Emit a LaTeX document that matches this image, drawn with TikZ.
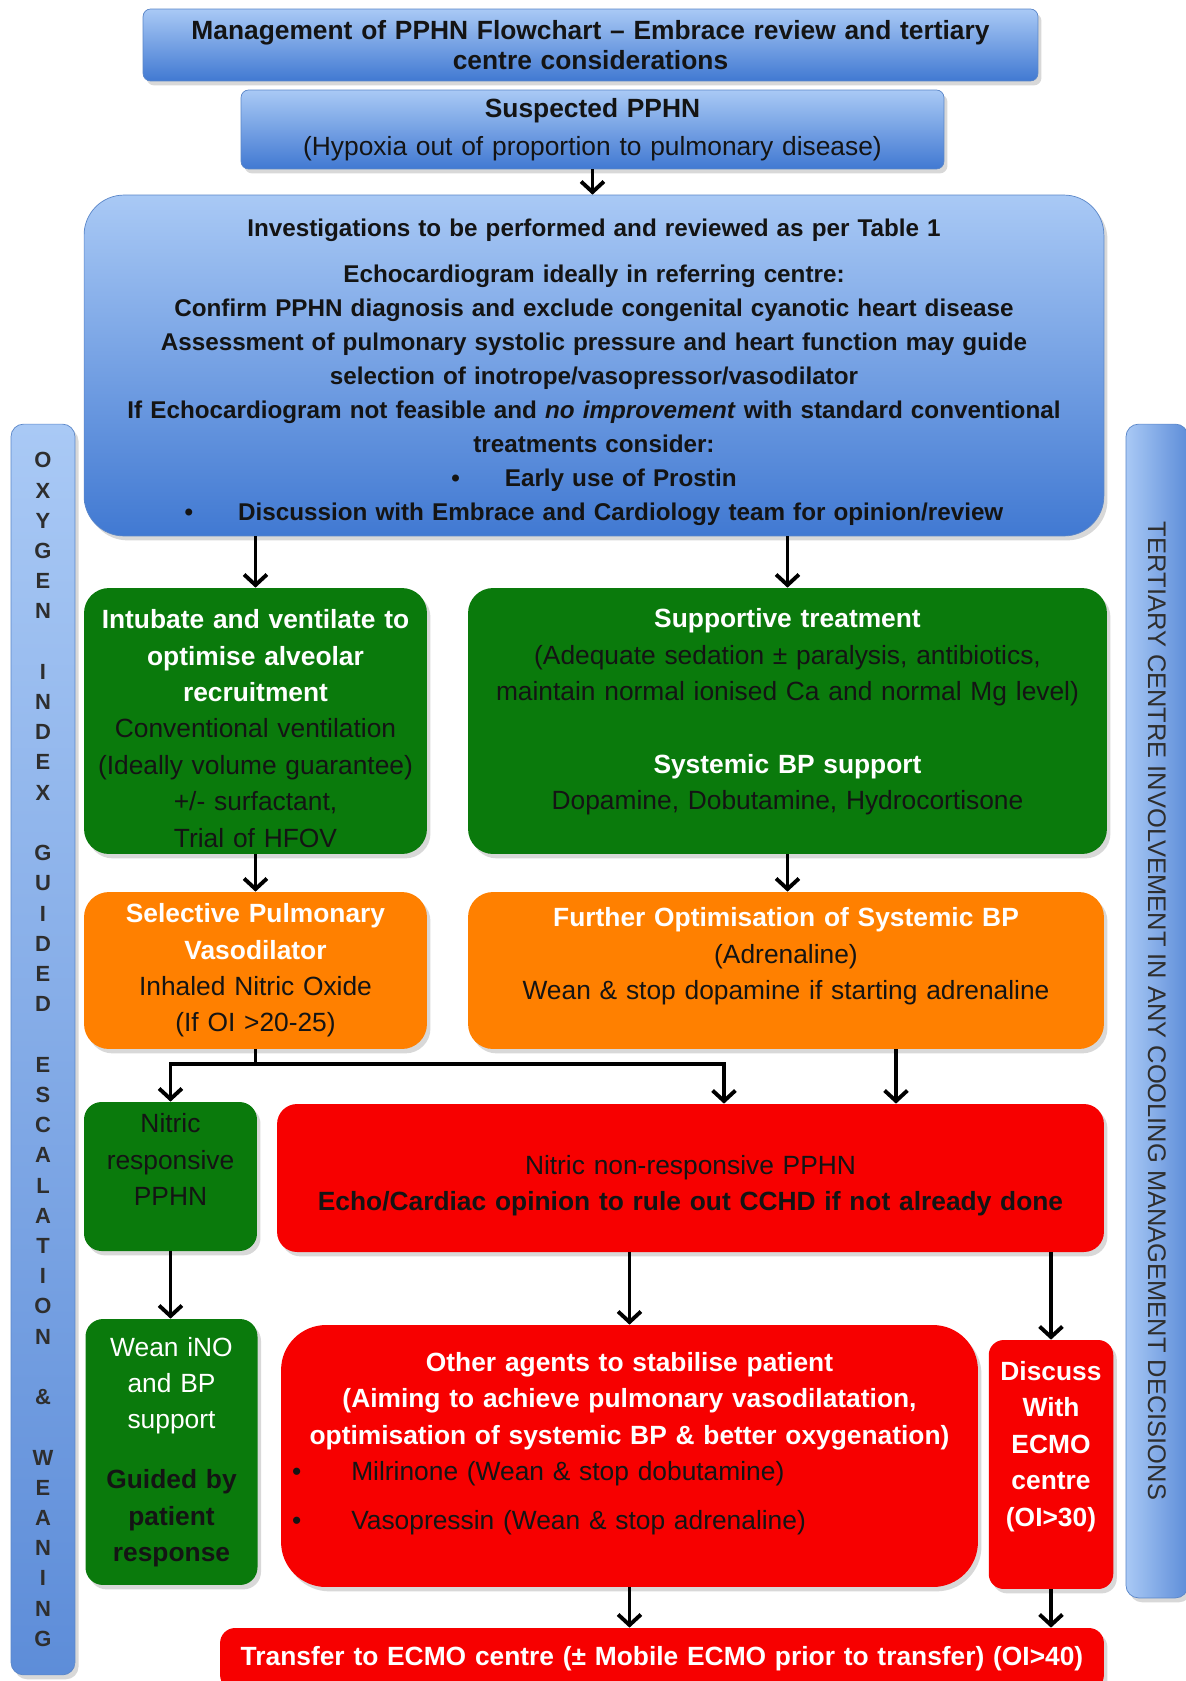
\documentclass[tikz,border=0pt]{standalone}
\usepackage{fontspec}
\setmainfont{Liberation Sans}
\usepackage{xcolor}
\usetikzlibrary{arrows.meta,shadows}

\definecolor{lightblue}{HTML}{A9C9F5}
\definecolor{deepblue}{HTML}{4179D2}
\definecolor{edgeblue}{HTML}{5A86C8}
\definecolor{ggreen}{HTML}{0A7A0C}
\definecolor{oorange}{HTML}{FF8000}
\definecolor{rred}{HTML}{F70000}
\definecolor{txtdark}{HTML}{141414}
\definecolor{bartxt}{HTML}{2E2E2E}

\newcommand{\hd}[1]{{\bfseries\color{white}#1}}
\newcommand{\bd}[1]{{\bfseries #1}}

\begin{document}
\begin{tikzpicture}[x=0.02cm, y=-0.02cm,
	box/.style={rounded corners=0.5cm, align=center, inner sep=2pt, text=txtdark,
		font=\fontsize{15}{20.7}\selectfont,
		drop shadow={opacity=0.3, shadow xshift=2pt, shadow yshift=-2.5pt}},
	bluebox/.style={box, draw=edgeblue, thin, top color=lightblue, bottom color=deepblue},
	greenbox/.style={box, fill=ggreen},
	orangebox/.style={box, fill=oorange},
	redbox/.style={box, fill=rred},
	sidebar/.style={box, rounded corners=0.25cm, draw=edgeblue, thin, text=bartxt},
	line/.style={line width=2.2pt},
	arr/.style={line, -{Straight Barb[length=6pt, width=13pt, line width=2.2pt]}}]
	\path[use as bounding box, clip] (0,0) rectangle (1186,1681);
	\fill[white] (0,0) rectangle (1186,1681);

	% top of the chart
	\node[bluebox, rounded corners=0.15cm, minimum width=17.9cm, minimum height=1.44cm, text width=17.5cm,
		font=\fontsize{15}{17.5}\selectfont\bfseries] (title) at (590.5,45)
		{Management of PPHN Flowchart -- Embrace review and tertiary\\centre considerations};
	\node[bluebox, rounded corners=0.15cm, minimum width=14.06cm, minimum height=1.58cm, text width=13.8cm,
		font=\fontsize{15}{21.3}\selectfont] (sus) at (592.5,129.5)
		{\bd{Suspected PPHN}\\(Hypoxia out of proportion to pulmonary disease)};
	\node[bluebox, rounded corners=0.8cm, minimum width=20.4cm, minimum height=6.82cm, text width=20cm,
		font=\fontsize{13.8}{19.3}\selectfont\bfseries] (blue) at (594,365.5)
		{Investigations to be performed and reviewed as per Table 1\\[7pt]
		Echocardiogram ideally in referring centre:\\
		Confirm PPHN diagnosis and exclude congenital cyanotic heart disease\\
		Assessment of pulmonary systolic pressure and heart function may guide\\
		selection of inotrope/vasopressor/vasodilator\\
		If Echocardiogram not feasible and \textit{no improvement} with standard conventional\\
		treatments consider:\\
		\textbullet\hspace{0.9cm}Early use of Prostin\\
		\textbullet\hspace{0.9cm}Discussion with Embrace and Cardiology team for opinion/review\par\vspace{-0.26cm}};

	% side bars
	\node[sidebar, top color=lightblue, bottom color=deepblue!85, minimum width=1.28cm, minimum height=25.02cm,
		text width=1cm, font=\fontsize{12.5}{17.2}\selectfont\bfseries] (oxy) at (43,1049.5)
		{O\\X\\Y\\G\\E\\N\\~\\I\\N\\D\\E\\X\\~\\G\\U\\I\\D\\E\\D\\~\\E\\S\\C\\A\\L\\A\\T\\I\\O\\N\\~\\\&\\~\\W\\E\\A\\N\\I\\N\\G};
	\node[sidebar, rotate=-90, left color=lightblue, right color=deepblue!85, minimum width=23.48cm, minimum height=1.24cm,
		font=\fontsize{14.5}{16}\selectfont] (tert) at (1157,1011)
		{TERTIARY CENTRE INVOLVEMENT IN ANY COOLING MANAGEMENT DECISIONS};

	% treatment boxes
	\node[greenbox, minimum width=6.86cm, minimum height=5.32cm, text width=6.7cm] (grnL) at (255.5,721)
		{\hd{Intubate and ventilate to\\optimise alveolar\\recruitment}\\
		Conventional ventilation\\(Ideally volume guarantee)\\+/- surfactant,\\Trial of HFOV\par\vspace{-0.3cm}};
	\node[greenbox, minimum width=12.78cm, minimum height=5.32cm, text width=12.5cm] (grnR) at (787.5,721)
		{\hd{Supportive treatment}\\
		(Adequate sedation ± paralysis, antibiotics,\\maintain normal ionised Ca and normal Mg level)\\[0.73cm]
		\hd{Systemic BP support}\\Dopamine, Dobutamine, Hydrocortisone\par\vspace{0.36cm}};
	\node[orangebox, minimum width=6.86cm, minimum height=3.14cm, text width=6.7cm] (orgL) at (255.5,970.5)
		{\hd{Selective Pulmonary\\Vasodilator}\\Inhaled Nitric Oxide\\(If OI >20-25)};
	\node[orangebox, minimum width=12.72cm, minimum height=3.14cm, text width=12.5cm] (orgR) at (786,970.5)
		{\hd{Further Optimisation of Systemic BP}\\(Adrenaline)\\Wean \& stop dopamine if starting adrenaline\par\vspace{0.56cm}};

	\node[greenbox, rounded corners=0.35cm, minimum width=3.46cm, minimum height=2.98cm, text width=3.3cm] (nresp) at (170.5,1176.5)
		{Nitric\\responsive\\PPHN\par\vspace{0.68cm}};
	\node[redbox, rounded corners=0.4cm, minimum width=16.54cm, minimum height=2.96cm, text width=16.3cm] (nnon) at (690.5,1178)
		{Nitric non-responsive PPHN\\\bd{Echo/Cardiac opinion to rule out CCHD if not already done}\par\vspace{-0.3cm}};
	\node[greenbox, rounded corners=0.35cm, minimum width=3.42cm, minimum height=5.32cm, text width=3.3cm] (wean) at (171.5,1452)
		{\textcolor{white}{Wean iNO\\and BP\\support}\\[0.47cm]\bd{Guided by\\patient\\response}};
	\node[redbox, rounded corners=0.9cm, minimum width=13.94cm, minimum height=5.24cm, text width=13.5cm, align=left] (other) at (629.5,1456)
		{\centering\hd{Other agents to stabilise patient\\(Aiming to achieve pulmonary vasodilatation,\\optimisation of systemic BP \& better oxygenation)}\par
		\raggedright\textbullet\hspace{1cm}Milrinone (Wean \& stop dobutamine)\\[0.25cm]
		\textbullet\hspace{1cm}Vasopressin (Wean \& stop adrenaline)\par\vspace{0.5cm}};
	\node[redbox, rounded corners=0.3cm, minimum width=2.4cm, minimum height=4.98cm, text width=2.35cm] (disc) at (1051,1464.5)
		{\hd{Discuss\\With\\ECMO\\centre\\(OI>30)}\par\vspace{0.72cm}};
	\node[redbox, rounded corners=0.3cm, minimum width=17.68cm, minimum height=1.24cm, text width=17.4cm] (trans) at (662,1659)
		{\hd{Transfer to ECMO centre (± Mobile ECMO prior to transfer) (OI>40)}};

	% connectors
	\draw[arr] (sus.south) -- (sus.south |- blue.north);
	\draw[arr] (grnL.north |- blue.south) -- (grnL.north);
	\draw[arr] (grnR.north |- blue.south) -- (grnR.north);
	\draw[arr] (grnL.south) -- (orgL.north);
	\draw[arr] (grnR.south) -- (grnR.south |- orgR.north);
	\draw[line] (orgL.south) -- ++(0,15) coordinate (split);
	\draw[arr] (split) -| (nresp.north);
	\draw[arr] (split) -| ([xshift=0.67cm]nnon.north);
	\draw[arr] ([xshift=2.2cm]orgR.south) -- ([xshift=2.2cm]orgR.south |- nnon.north);
	\draw[arr] (nresp.south) -- (nresp.south |- wean.north);
	\draw[arr] (other.north |- nnon.south) -- (other.north);
	\draw[arr] (disc.north |- nnon.south) -- (disc.north);
	\draw[arr] (other.south) -- (other.south |- trans.north);
	\draw[arr] (disc.south) -- (disc.south |- trans.north);
\end{tikzpicture}
\end{document}
